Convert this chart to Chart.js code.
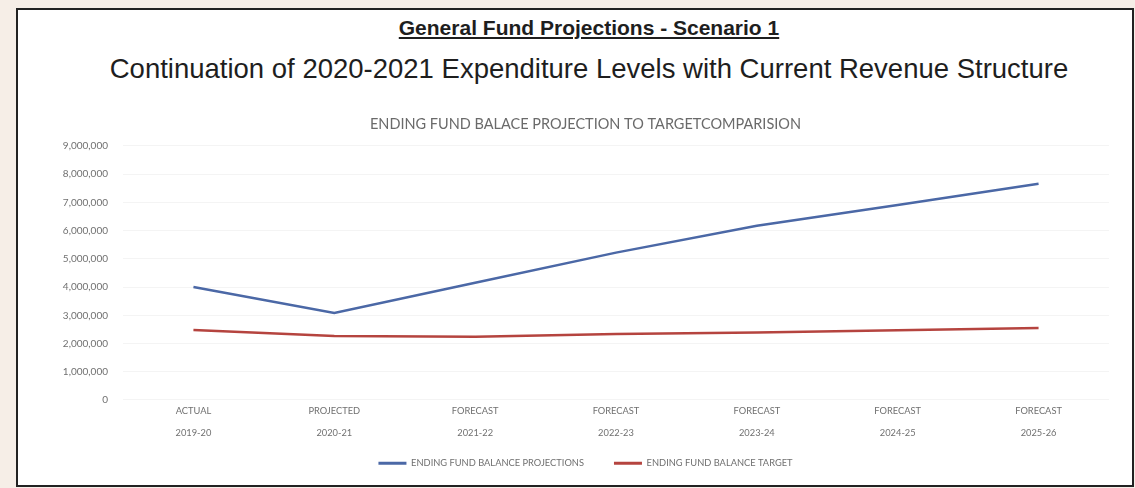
<!DOCTYPE html>
<html>
<head>
<meta charset="utf-8">
<title>General Fund Projections - Scenario 1</title>
<script src="https://cdn.jsdelivr.net/npm/chart.js@4"></script>
<style>
  html, body {
    margin: 0;
    padding: 0;
    width: 1135px;
    height: 488px;
    background: #f6eee7;
    overflow: hidden;
  }
  .frame {
    position: absolute;
    left: 16px;
    top: 8px;
    width: 1114px;
    height: 475px;
    border: 2px solid #222;
    background: #fff;
  }
  .heading {
    position: absolute;
    left: 0;
    width: 100%;
    box-sizing: border-box;
    padding-left: 28px;
    text-align: center;
    font-family: "Liberation Sans", Arial, sans-serif;
    color: #1e1e1e;
    white-space: nowrap;
  }
  .heading1 {
    top: 6px;
    font-size: 21px;
    font-weight: bold;
    text-decoration: underline;
  }
  .heading2 {
    top: 43px;
    font-size: 27.5px;
  }
  .chart-parent {
    position: absolute;
    left: 0;
    top: 100px;
    width: 1114px;
    height: 372px;
  }
</style>
</head>
<body>
<div class="frame">
  <div class="heading heading1">General Fund Projections - Scenario 1</div>
  <div class="heading heading2">Continuation of 2020-2021 Expenditure Levels with Current Revenue Structure</div>
  <div class="chart-parent">
    <canvas id="myChart"></canvas>
  </div>
</div>
<script>
const categories = [
  ['ACTUAL', '2019-20'],
  ['PROJECTED', '2020-21'],
  ['FORECAST', '2021-22'],
  ['FORECAST', '2022-23'],
  ['FORECAST', '2023-24'],
  ['FORECAST', '2024-25'],
  ['FORECAST', '2025-26']
];
const balanceProjections = [4000000, 3080000, 4150000, 5220000, 6170000, 6910000, 7660000];
const balanceTarget = [2480000, 2270000, 2240000, 2340000, 2390000, 2470000, 2550000];

const textFont = 'Lato, "Open Sans", sans-serif';
const textColor = '#707070';

// the legend keeps wide gaps between items but sits closer to the axis labels
const LEGEND_LIFT = 15;
const legendLift = {
  id: 'legendLift',
  afterLayout(chart) {
    chart.legend.top -= LEGEND_LIFT;
    chart.legend.bottom -= LEGEND_LIFT;
  },
};

const ctx = document.getElementById('myChart');

const myChart = new Chart(ctx, {
  type: 'line',
  data: {
    labels: categories,
    datasets: [
      {
        label: 'ENDING FUND BALANCE PROJECTIONS',
        data: balanceProjections,
        borderColor: '#4b68a6',
        backgroundColor: '#4b68a6',
        borderWidth: 2.5,
        pointRadius: 0,
        tension: 0,
      },
      {
        label: 'ENDING FUND BALANCE TARGET',
        data: balanceTarget,
        borderColor: '#b5443f',
        backgroundColor: '#b5443f',
        borderWidth: 2.5,
        pointRadius: 0,
        tension: 0,
      },
    ],
  },
  plugins: [legendLift],
  options: {
    responsive: true,
    maintainAspectRatio: false,
    animation: false,
    layout: {
      padding: { left: 44, right: 23, top: 0, bottom: -11 },
    },
    plugins: {
      title: {
        display: true,
        text: 'ENDING FUND BALACE PROJECTION TO TARGETCOMPARISION',
        color: '#6a6a6a',
        font: { family: textFont, size: 14.5, weight: 'normal' },
        padding: { top: 6, bottom: 12.5 },
      },
      legend: {
        position: 'bottom',
        labels: {
          color: textColor,
          font: { family: textFont, size: 9.3 },
          boxWidth: 28,
          boxHeight: 3,
          padding: 30,
          generateLabels: (chart) =>
            chart.data.datasets.map((ds, i) => ({
              text: ds.label,
              fillStyle: ds.borderColor,
              strokeStyle: ds.borderColor,
              lineWidth: 0,
              fontColor: textColor,
              datasetIndex: i,
              hidden: false,
            })),
        },
      },
      tooltip: { enabled: false },
    },
    scales: {
      x: {
        offset: true,
        grid: { display: false, drawTicks: false },
        border: { display: false },
        ticks: {
          color: textColor,
          padding: 0,
          maxRotation: 0,
          font: { family: textFont, size: 9.3, lineHeight: 2.35 },
        },
      },
      y: {
        min: 0,
        max: 9000000,
        afterFit: (scale) => {
          scale.width = 61;
        },
        grid: { color: '#f4f4f4', drawTicks: false },
        border: { display: false },
        ticks: {
          stepSize: 1000000,
          padding: 15,
          color: textColor,
          font: { family: textFont, size: 10 },
          callback: (value) => value.toLocaleString('en-US'),
        },
      },
    },
  },
});
</script>
</body>
</html>
